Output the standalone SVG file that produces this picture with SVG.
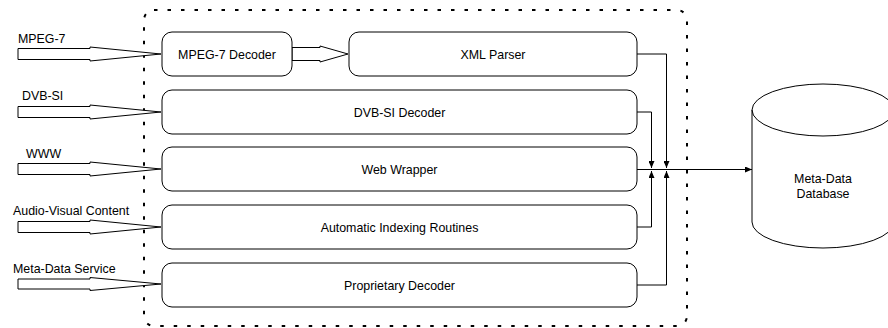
<svg xmlns="http://www.w3.org/2000/svg" width="888" height="328" viewBox="0 0 888 328">
<style>
text{font-family:"Liberation Sans",Arial,sans-serif;font-size:12.4px;fill:#000}
.box{fill:#fff;stroke:#000;stroke-width:1}
.in{fill:#fff;stroke:#000;stroke-width:1}
.lbl{text-anchor:middle}
.con{fill:none;stroke:#000;stroke-width:1}
.frame{fill:none;stroke:#000;stroke-width:2;stroke-dasharray:3.5 10}
</style>
<defs>
<marker id="ah" markerUnits="userSpaceOnUse" markerWidth="7" markerHeight="6" refX="7" refY="3" orient="auto">
<path d="M0,0 L7,3 L0,6 Z" fill="#000"/>
</marker>
</defs>
<rect class="frame" x="144" y="10" width="543" height="316" rx="10"/>
<g id="inputs">
<path class="in" d="M18,48.5 H90 V47 L161,54 L90,61 V59.5 H18 Z"/>
<text x="18" y="43">MPEG-7</text>
<path class="in" d="M18,106.5 H90 V105 L161,112 L90,119 V117.5 H18 Z"/>
<text x="22" y="100">DVB-SI</text>
<path class="in" d="M18,163.5 H90 V162 L161,169 L90,176 V174.5 H18 Z"/>
<text x="26" y="158">WWW</text>
<path class="in" d="M18,221.5 H90 V220 L161,227 L90,234 V232.5 H18 Z"/>
<text x="13" y="215">Audio-Visual Content</text>
<path class="in" d="M18,279 H90 V277.5 L161,284 L90,290.5 V289 H18 Z"/>
<text x="13" y="273">Meta-Data Service</text>
<path class="in" d="M292,47.5 H320 V46 L348,54 L320,62 V60.5 H292 Z"/>
</g>
<g id="mpeg7-decoder">
<rect class="box" x="162" y="32" width="130" height="44" rx="10"/>
<text class="lbl" x="227" y="58.5">MPEG-7 Decoder</text>
</g>
<g id="xml-parser">
<rect class="box" x="349" y="32" width="288" height="44" rx="10"/>
<text class="lbl" x="493" y="58.5">XML Parser</text>
</g>
<g id="dvbsi-decoder">
<rect class="box" x="162" y="90" width="475" height="44" rx="10"/>
<text class="lbl" x="399.5" y="116.5">DVB-SI Decoder</text>
</g>
<g id="web-wrapper">
<rect class="box" x="162" y="147" width="475" height="44" rx="10"/>
<text class="lbl" x="399.5" y="173.5">Web Wrapper</text>
</g>
<g id="auto-indexing">
<rect class="box" x="162" y="205" width="475" height="44" rx="10"/>
<text class="lbl" x="399.5" y="231.5">Automatic Indexing Routines</text>
</g>
<g id="proprietary-decoder">
<rect class="box" x="162" y="263" width="475" height="44" rx="10"/>
<text class="lbl" x="399.5" y="289.5">Proprietary Decoder</text>
</g>
<g id="connectors">
<path class="con" d="M637,54 H666.5 V168" marker-end="url(#ah)"/>
<path class="con" d="M637,112 H651.5 V168" marker-end="url(#ah)"/>
<path class="con" d="M637,169.5 H752" marker-end="url(#ah)"/>
<path class="con" d="M637,227 H651.5 V171" marker-end="url(#ah)"/>
<path class="con" d="M637,285 H666.5 V171" marker-end="url(#ah)"/>
</g>
<g id="meta-data-database">
<path class="box" d="M752,110 A71,26 0 0,1 894,110 V222 A71,26 0 0,1 752,222 Z"/>
<path class="con" d="M752,110 A71,26 0 0,0 894,110"/>
<text class="lbl" x="823" y="183">Meta-Data</text>
<text class="lbl" x="823" y="198">Database</text>
</g>
</svg>
